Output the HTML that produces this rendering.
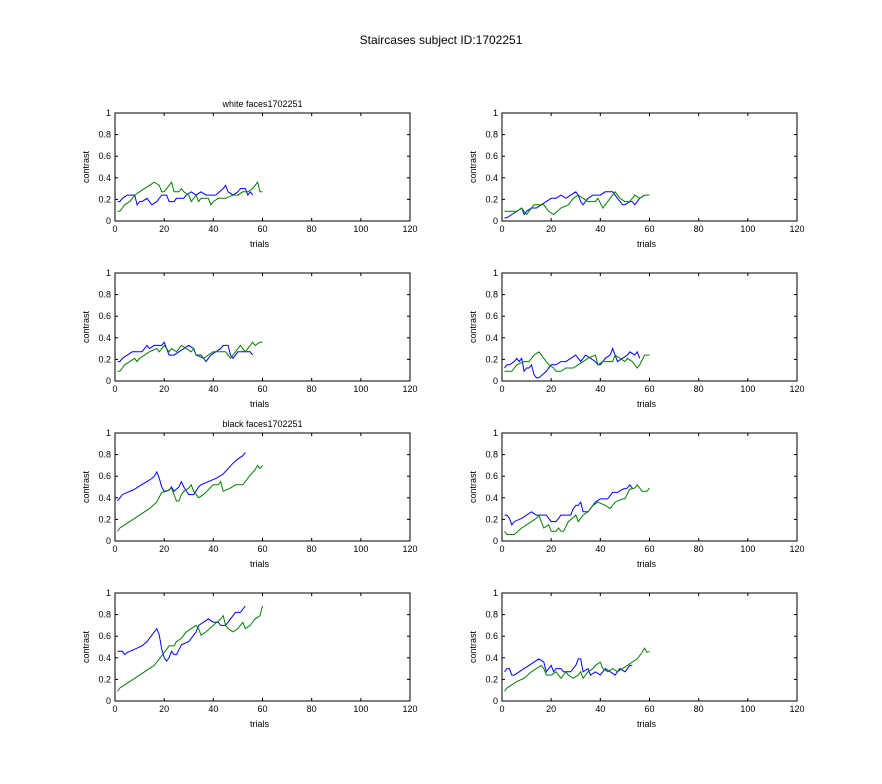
<!DOCTYPE html>
<html><head><meta charset="utf-8"><style>
html,body{margin:0;padding:0;background:#fff;}
svg{display:block;font-family:"Liberation Sans",sans-serif;}
</style></head><body>
<svg id="fig" width="882" height="784" viewBox="0 0 882 784">
<rect width="882" height="784" fill="#fff"/>
<text x="441" y="44" font-size="12" text-anchor="middle">Staircases  subject ID:1702251</text>
</svg>
<script>
const xTicks=[0,20,40,60,80,100,120];
const yTicks=[0,0.2,0.4,0.6,0.8,1];
const yTickLabels=["0","0.2","0.4","0.6","0.8","1"];
const titles=["white faces1702251","","","","black faces1702251","","",""];
// panel data: trial numbers and contrast values
const p1bx=[1,2,3,5,8,9,10,11,13,15,17,19,21,22,24,25,28,29,31,33,35,37,41,44,45,46,48,50,51,53,54,55,56];
const p1by=[.18,.18,.21,.24,.24,.15,.18,.18,.21,.15,.18,.24,.24,.18,.18,.21,.21,.24,.27,.24,.27,.24,.24,.30,.33,.27,.24,.27,.30,.30,.24,.27,.24];
const p1gx=[1,2,4,6,8,10,12,14,16,18,19,20,22,23,24,26,27,28,30,31,33,34,35,38,39,40,42,45,48,50,52,54,56,58,59,60];
const p1gy=[.09,.09,.15,.18,.24,.27,.30,.33,.36,.33,.27,.27,.33,.36,.27,.27,.30,.27,.24,.18,.24,.18,.21,.21,.15,.18,.21,.21,.24,.24,.27,.27,.30,.36,.27,.27];
const p2bx=[1,2,4,6,8,9,10,12,14,16,18,20,22,24,26,28,30,31,32,33,35,37,40,42,45,47,49,50,52,53,54,56,58];
const p2by=[.03,.03,.06,.09,.12,.06,.09,.12,.12,.15,.18,.21,.21,.24,.21,.24,.27,.24,.18,.15,.21,.24,.24,.27,.27,.21,.15,.15,.18,.18,.15,.21,.24];
const p2gx=[1,6,8,9,10,11,13,17,19,21,24,27,29,31,33,35,38,39,41,43,45,46,48,50,52,54,56,58,60];
const p2gy=[.09,.09,.12,.09,.06,.09,.15,.15,.09,.06,.12,.15,.21,.24,.21,.18,.18,.21,.12,.18,.24,.27,.21,.18,.18,.24,.21,.24,.24];
const p3bx=[1,2,3,5,7,11,12,13,14,16,19,20,21,22,24,26,28,30,32,33,35,37,39,41,43,44,46,47,48,50,55,56];
const p3by=[.18,.18,.21,.24,.27,.27,.30,.33,.30,.33,.33,.36,.30,.24,.24,.27,.30,.33,.30,.24,.24,.18,.24,.27,.30,.33,.33,.24,.21,.27,.27,.24];
const p3gx=[1,2,4,6,8,9,10,12,14,17,18,20,21,22,23,25,27,29,31,32,33,36,38,40,45,47,49,51,53,55,56,57,59,60];
const p3gy=[.09,.09,.15,.18,.21,.18,.21,.24,.27,.30,.27,.33,.30,.27,.30,.27,.33,.30,.27,.30,.24,.21,.24,.27,.27,.21,.27,.33,.27,.33,.36,.33,.36,.36];
const p4bx=[1,2,3,5,6,7,8,9,10,11,12,13,14,15,18,20,22,24,26,28,30,32,34,36,38,39,40,42,44,45,46,47,49,51,52,54,55,56];
const p4by=[.12,.15,.15,.18,.21,.18,.21,.09,.12,.12,.15,.06,.03,.03,.09,.15,.15,.18,.18,.21,.24,.18,.24,.21,.18,.15,.15,.21,.24,.30,.24,.18,.21,.24,.27,.24,.27,.21];
const p4gx=[1,4,6,9,11,13,15,17,19,21,22,24,26,29,31,33,35,38,39,41,43,45,46,48,50,51,53,55,56,58,60];
const p4gy=[.09,.09,.15,.18,.18,.24,.27,.21,.15,.12,.09,.09,.12,.12,.15,.18,.21,.24,.15,.18,.18,.18,.24,.21,.18,.21,.18,.12,.15,.24,.24];
const p5bx=[1,2,3,5,8,10,13,15,16,17,18,19,20,22,23,24,26,27,28,30,32,34,35,38,41,44,46,48,50,52,53];
const p5by=[.37,.40,.43,.45,.48,.51,.55,.58,.60,.64,.58,.50,.46,.47,.50,.46,.50,.55,.50,.43,.43,.50,.52,.55,.58,.62,.67,.72,.76,.79,.82];
const p5gx=[1,2,4,6,10,14,17,19,21,23,24,25,26,27,28,30,31,32,34,36,40,42,43,44,47,49,52,53,55,57,58,59,60];
const p5gy=[.09,.12,.15,.18,.24,.30,.36,.45,.46,.49,.43,.37,.37,.43,.46,.49,.52,.46,.40,.43,.52,.52,.55,.46,.49,.52,.52,.55,.61,.66,.70,.67,.70];
const p6bx=[1,2,3,4,5,8,10,12,14,16,18,19,20,22,24,28,29,30,31,32,33,35,36,38,40,43,45,47,49,51,52,53];
const p6by=[.24,.24,.21,.15,.18,.21,.24,.27,.24,.24,.24,.21,.18,.18,.24,.24,.30,.33,.33,.36,.27,.27,.30,.36,.39,.39,.45,.45,.48,.49,.52,.49];
const p6gx=[1,2,5,8,10,12,14,15,16,17,19,20,22,23,24,25,27,30,31,33,35,37,39,42,44,46,49,50,52,54,55,57,59,60];
const p6gy=[.09,.06,.06,.12,.15,.18,.21,.24,.18,.12,.15,.09,.09,.12,.09,.09,.18,.24,.18,.24,.27,.33,.36,.33,.30,.36,.39,.39,.48,.49,.52,.46,.46,.49];
const p7bx=[1,3,4,5,8,11,13,15,16,17,18,19,20,21,22,23,24,25,27,30,32,33,34,36,38,40,42,43,45,47,49,51,53];
const p7by=[.46,.46,.43,.45,.48,.51,.55,.61,.64,.67,.61,.48,.40,.37,.40,.46,.43,.43,.52,.55,.61,.64,.70,.73,.76,.73,.73,.70,.70,.76,.82,.82,.88];
const p7gx=[1,2,4,6,10,14,16,18,20,22,24,25,27,29,31,33,34,35,37,40,43,44,45,46,48,50,52,53,55,57,59,60];
const p7gy=[.09,.12,.15,.18,.24,.30,.33,.39,.45,.51,.51,.55,.58,.64,.67,.70,.67,.61,.64,.70,.76,.79,.70,.67,.64,.67,.73,.67,.70,.76,.79,.88];
const p8bx=[1,2,3,4,5,7,9,11,13,15,17,18,20,21,22,24,25,28,30,31,32,33,35,36,38,40,42,44,46,48,50,52,53];
const p8by=[.27,.30,.30,.24,.24,.27,.30,.33,.36,.39,.36,.27,.33,.27,.30,.30,.27,.27,.33,.39,.39,.27,.30,.24,.27,.24,.30,.27,.24,.30,.27,.33,.33];
const p8gx=[1,2,4,6,9,12,14,16,17,18,20,22,24,26,27,29,31,32,33,35,37,38,40,41,43,45,47,49,51,53,55,57,58,59,60];
const p8gy=[.09,.12,.15,.18,.21,.27,.30,.33,.30,.24,.24,.27,.21,.27,.24,.21,.24,.27,.21,.27,.30,.33,.36,.30,.27,.30,.27,.30,.33,.36,.39,.45,.49,.45,.46];

const panels=[[p1bx,p1by,p1gx,p1gy],[p2bx,p2by,p2gx,p2gy],[p3bx,p3by,p3gx,p3gy],[p4bx,p4by,p4gx,p4gy],
[p5bx,p5by,p5gx,p5gy],[p6bx,p6by,p6gx,p6gy],[p7bx,p7by,p7gx,p7gy],[p8bx,p8by,p8gx,p8gy]];
const NS="http://www.w3.org/2000/svg";
const svg=document.getElementById('fig');
function mk(tag,attrs,parent){const e=document.createElementNS(NS,tag);for(const k in attrs)e.setAttribute(k,attrs[k]);(parent||svg).appendChild(e);return e;}
const colsX=[115,502], rowsY=[113,273,433,593], W=295, H=108;
panels.forEach((p,i)=>{
  const L=colsX[i%2], T=rowsY[Math.floor(i/2)], B=T+H, R=L+W;
  const sx=v=>L+v/120*W, sy=v=>B-v*H;
  const g=mk('g',{});
  
  
  const box=mk('rect',{x:L,y:T,width:W,height:H,fill:'#fff',stroke:'#000','stroke-width':1},g);
  
  
  xTicks.forEach(t=>{
    const x=sx(t);
    mk('line',{x1:x,y1:B,x2:x,y2:B-3,stroke:'#000'},g);
    mk('line',{x1:x,y1:T,x2:x,y2:T+3,stroke:'#000'},g);
    const tx=mk('text',{x:x,y:B+11,'font-size':9,'text-anchor':'middle'},g);tx.textContent=t;
    
    
  });
  yTicks.forEach((t,j)=>{
    const y=sy(t);
    mk('line',{x1:L,y1:y,x2:L+3,y2:y,stroke:'#000'},g);
    mk('line',{x1:R,y1:y,x2:R-3,y2:y,stroke:'#000'},g);
    const tx=mk('text',{x:L-4,y:y+3,'font-size':9,'text-anchor':'end'},g);tx.textContent=yTickLabels[j];
    
    
  });
  const xl=mk('text',{x:L+W/2-3,y:B+26,'font-size':9,'text-anchor':'middle'},g);xl.textContent='trials';
  
  
  const yl=mk('text',{x:0,y:0,'font-size':9,'text-anchor':'middle',transform:`translate(${L-26},${T+H/2}) rotate(-90)`},g);yl.textContent='contrast';
  
  
  if(titles[i]){const tt=mk('text',{x:L+W/2,y:T-6,'font-size':9,'text-anchor':'middle'},g);tt.textContent=titles[i];
    
    }
  const ser=[[p[0],p[1],'#0000ff','blue-staircase'],[p[2],p[3],'#008000','green-staircase']];
  ser.forEach(s=>{
    const pts=s[0].map((x,k)=>sx(x).toFixed(1)+','+sy(s[1][k]).toFixed(1)).join(' ');
    const pl=mk('polyline',{points:pts,fill:'none',stroke:s[2],'stroke-width':1},g);
    
    
  });
});
</script>
</body></html>
